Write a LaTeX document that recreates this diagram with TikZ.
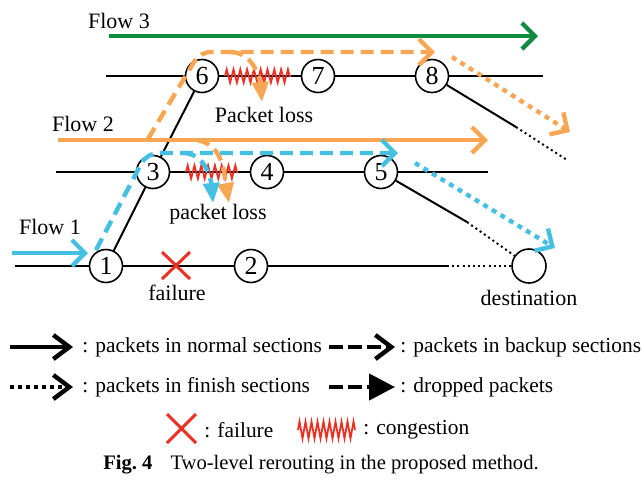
\documentclass[tikz,border=0pt]{standalone}
\usepackage{fontspec}
\setmainfont{Liberation Serif}
\usetikzlibrary{arrows.meta,decorations.pathmorphing,positioning}
\definecolor{flowgreen}{RGB}{16,140,64}
\definecolor{floworange}{RGB}{247,166,84}
\definecolor{flowblue}{RGB}{70,192,226}
\definecolor{congred}{RGB}{236,48,36}

\begin{document}
\begin{tikzpicture}[x=0.5pt,y=-0.5pt]
\tikzset{router/.style = {draw, circle, fill=white, line width=0.8pt, minimum size=16.5pt, inner sep=0pt, font=\fontsize{13}{13}\selectfont},
  link/.style = {line width=1pt},
  linkdot/.style = {line width=1pt, dash pattern=on 1pt off 1.6pt},
  lbl/.style = {font=\fontsize{11}{13}\selectfont, inner sep=0pt},
  legtext/.style = {font=\fontsize{10.7}{13}\selectfont, inner sep=0pt, anchor=west},
  normal/.style = {line width=2.2pt, -{Straight Barb[length=6.5pt,width=13pt]}},
  backup/.style = {normal, dash pattern=on 6.5pt off 3.5pt},
  finish/.style = {normal, dash pattern=on 2.5pt off 2.5pt},
  dropped/.style = {line width=2.2pt, dash pattern=on 6.5pt off 3.5pt, -{Triangle[length=10pt,width=8pt]}},
  fail/.style = {congred, line width=1.5pt},
  congestion/.style = {congred, line width=0.9pt, decorate, decoration={zigzag, segment length=3.4pt, amplitude=3.3pt}}}
\useasboundingbox (0,0) rectangle (642,479);

% routers
\node[router] (r1) at (106,266) {1};
\node[router] (r2) at (251,266) {2};
\node[router] (r3) at (153,172) {3};
\node[router] (r4) at (267,172) {4};
\node[router] (r5) at (381,172) {5};
\node[router] (r6) at (202,76) {6};
\node[router] (r7) at (318,76) {7};
\node[router] (r8) at (432,76) {8};
\node[router, minimum size=17pt] (dst) at (529,266) {};
\node[lbl, below=3pt of dst] (dstlbl) {destination};

% links
\coordinate (a0) at (15,266);  \coordinate (a1) at (447,266);
\coordinate (b0) at (56,172);  \coordinate (b1) at (488,172);  \coordinate (b2) at (467,222);
\coordinate (c0) at (106,76);  \coordinate (c1) at (543,76);   \coordinate (c2) at (516,127);
\coordinate (c3) at (567,160);
\draw[link] (a0) -- (r1) -- (r2) -- (a1);
\draw[linkdot] (a1) -- (dst);
\draw[link] (b0) -- (r3) -- (r4) -- (r5) -- (b1);
\draw[link] (r5) -- (b2);
\draw[linkdot] (b2) -- (dst);
\draw[link] (c0) -- (r6) -- (r7) -- (r8) -- (c1);
\draw[link] (r8) -- (c2);
\draw[linkdot] (c2) -- (c3);
\draw[link] (r1) -- (r3) -- (r6);

% failure and congestion
\draw[fail] (162,252) -- (190,279) (162,279) -- (190,252);
\node[lbl] (faillbl) at (177,293) {failure};
\coordinate (z1a) at (186,172); \coordinate (z1b) at (238,172);
\coordinate (z2a) at (225,76);  \coordinate (z2b) at (291,76);
\draw[congestion] (z1a) -- (z1b);
\draw[congestion] (z2a) -- (z2b);

% flows
\coordinate (f3s) at (109,36);  \coordinate (f3e) at (538,36);
\coordinate (f2s) at (58,140);  \coordinate (f2e) at (488,140);
\coordinate (f1s) at (12,253);  \coordinate (f1e) at (88,253);
\draw[normal, flowgreen] (f3s) -- (f3e);
\draw[normal, floworange] (f2s) -- (f2e);
\draw[normal, flowblue] (f1s) -- (f1e);
\node[lbl] (fl3) at (119,21) {Flow 3};
\node[lbl] (fl2) at (83,124) {Flow 2};
\node[lbl] (fl1) at (50,227) {Flow 1};

% backup and finish sections
\draw[backup, floworange] (148,139) -- (194,62) to[out=58,in=180] (212,52) -- (435,52);
\draw[backup, flowblue] (96,250) -- (141,164) to[out=60,in=180] (160,153) -- (398,153);
\draw[finish, floworange] (452,57) -- (570,132);
\draw[finish, flowblue] (415,163) -- (555,248);

% dropped packets
\draw[dropped, floworange] (230,52) to[out=0,in=95] (262,102);
\draw[dropped, floworange] (197,140) to[out=-10,in=100] (229,203);
\draw[dropped, flowblue] (183,153) to[out=0,in=95] (213,203);
\node[lbl] (loss2) at (264,115) {Packet loss};
\node[lbl] (loss1) at (218,214) {packet loss};

% legend
\coordinate (ln1) at (10,347);  \coordinate (ln2) at (73,347);
\coordinate (lb1) at (329,347); \coordinate (lb2) at (395,347);
\coordinate (lf1) at (10,387);  \coordinate (lf2) at (73,387);
\coordinate (ld1) at (329,387); \coordinate (ld2) at (395,387);
\draw[normal, -{Straight Barb[length=8pt,width=12pt]}] (ln1) -- (ln2);
\node[legtext, right=4.5pt of ln2] (lnt) {: packets in normal sections};
\draw[backup, dash pattern=on 7pt off 2.5pt, -{Straight Barb[length=8pt,width=12pt]}] (lb1) -- (lb2);
\node[legtext, right=2.5pt of lb2] (lbt) {: packets in backup sections};
\draw[finish, dash pattern=on 2pt off 2pt, -{Straight Barb[length=8pt,width=12pt]}] (lf1) -- (lf2);
\node[legtext, right=4.5pt of lf2] (lft) {: packets in finish sections};
\draw[dropped, dash pattern=on 7pt off 2.5pt, -{Triangle[length=13pt,width=13pt]}] (ld1) -- (ld2);
\node[legtext, right=2.5pt of ld2] (ldt) {: dropped packets};
\draw[fail] (167,414) -- (196,443) (167,443) -- (196,414);
\node[legtext] (lxt) at (204,430) {: failure};
\coordinate (lz1) at (298,430); \coordinate (lz2) at (355,430);
\draw[congestion, decoration={zigzag, segment length=3pt, amplitude=4.2pt}] (lz1) -- (lz2);
\node[legtext, right=4pt of lz2] (lzt) {: congestion};

\node[font=\fontsize{10.3}{12}\selectfont] (cap) at (321,465) {\textbf{Fig.~4}\hspace{9pt}Two-level rerouting in the proposed method.};
\end{tikzpicture}
\end{document}
